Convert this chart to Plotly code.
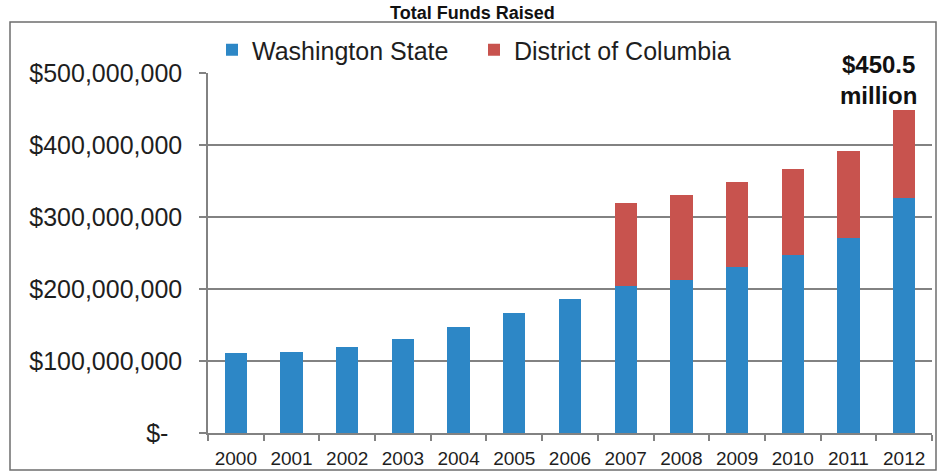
import plotly.graph_objects as go

# Total funds raised per year, in millions of dollars
years = ["2000", "2001", "2002", "2003", "2004", "2005", "2006",
         "2007", "2008", "2009", "2010", "2011", "2012"]
washington_state = [111, 113, 120, 131, 147, 167, 186, 204, 213, 231, 247, 271, 326]
district_of_columbia = [None, None, None, None, None, None, None,
                        116, 118, 118, 119, 120, 124.5]

y_tick_values = [0, 100_000_000, 200_000_000, 300_000_000, 400_000_000, 500_000_000]
y_tick_labels = ["$-\u00a0\u00a0", "$100,000,000", "$200,000,000",
                 "$300,000,000", "$400,000,000", "$500,000,000"]

total_2012_label = "$450.5<br>million"

BLUE = "#2d87c6"
RED = "#c8534e"
GRID = "#828282"
FONT = "Liberation Sans, Arial, sans-serif"

to_dollars = lambda vals: [v * 1e6 if v is not None else None for v in vals]

fig = go.Figure()
fig.add_bar(x=years, y=to_dollars(washington_state), name="Washington State",
            marker=dict(color=BLUE, line=dict(width=0)))
fig.add_bar(x=years, y=to_dollars(district_of_columbia), name="District of Columbia",
            marker=dict(color=RED, line=dict(width=0)))

L, R, T, B = 208, 13, 73, 39
W, H = 945, 472
pw, ph = W - L - R, H - T - B


def px_x(x):
    return (x - L) / pw


def px_y(y):
    return (H - B - y) / ph


fig.update_layout(
    width=W, height=H,
    margin=dict(l=L, r=R, t=T, b=B, pad=0, autoexpand=False),
    barmode="stack",
    bargap=0.6,
    plot_bgcolor="white",
    paper_bgcolor="white",
    font=dict(family=FONT, color="#1e1e1e"),
    showlegend=True,
    legend=dict(
        orientation="h",
        x=px_x(212), xanchor="left",
        y=px_y(50), yanchor="middle",
        font=dict(size=25, family=FONT, color="#1e1e1e"),
        bgcolor="rgba(0,0,0,0)",
        traceorder="normal",
        itemwidth=30,
        entrywidth=217,
        entrywidthmode="pixels",
    ),
    xaxis=dict(
        type="category",
        automargin=False,
        showgrid=False,
        showline=True, linecolor=GRID, linewidth=1.5,
        ticks="outside", tickson="boundaries", ticklen=6,
        tickcolor=GRID, tickwidth=1.5,
        ticklabelstandoff=7,
        tickfont=dict(size=19, family=FONT, color="#1e1e1e"),
        fixedrange=True,
    ),
    yaxis=dict(
        range=[0, 500_000_000],
        automargin=False,
        tickvals=y_tick_values,
        ticktext=y_tick_labels,
        showgrid=True, gridcolor=GRID, gridwidth=1.5,
        showline=True, linecolor=GRID, linewidth=1.5,
        zeroline=False,
        ticks="outside", ticklen=7, tickcolor=GRID, tickwidth=1.5,
        ticklabelstandoff=12,
        tickfont=dict(size=25, family=FONT, color="#1e1e1e"),
        fixedrange=True,
    ),
)

# White backing behind the 2012 callout, interrupting the top gridline
fig.add_shape(type="rect", xref="paper", yref="paper",
              x0=px_x(805), x1=px_x(934), y0=px_y(110), y1=px_y(48),
              line=dict(width=0), fillcolor="white", layer="above")

# Outer chart frame
fig.add_shape(type="rect", xref="paper", yref="paper",
              x0=px_x(10), x1=px_x(936), y0=px_y(470), y1=px_y(22),
              line=dict(color="#6e6e6e", width=1.5), fillcolor="rgba(0,0,0,0)",
              layer="above")

# Chart title
fig.add_annotation(text="<b>Total Funds Raised</b>", xref="paper", yref="paper",
                   x=px_x(472), y=px_y(1), xanchor="center", yanchor="top",
                   showarrow=False, font=dict(size=18, family=FONT, color="#111"))

# 2012 total callout
fig.add_annotation(text="<b>" + total_2012_label + "</b>", xref="paper", yref="paper",
                   x=px_x(878), y=px_y(80), xanchor="center", yanchor="middle",
                   showarrow=False,
                   font=dict(size=24, family=FONT, color="#111"))

fig.write_html("out.html")
